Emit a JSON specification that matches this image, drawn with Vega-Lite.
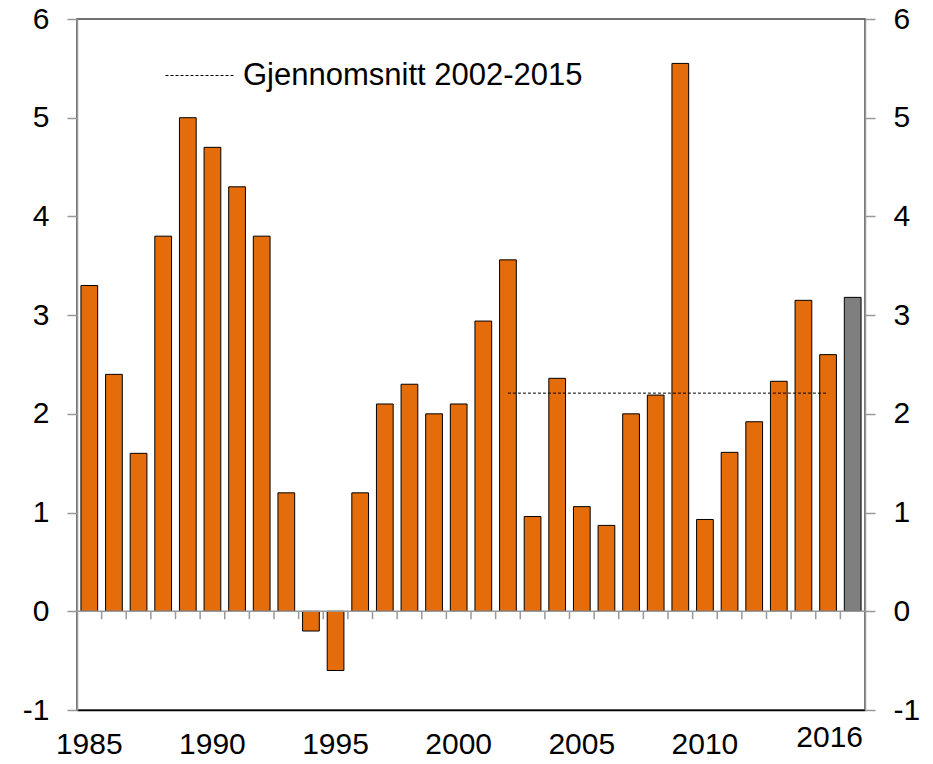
{
  "$schema": "https://vega.github.io/schema/vega-lite/v6.json",
  "width": 788,
  "height": 691,
  "autosize": "none",
  "padding": {"left": 77, "top": 19, "right": 68, "bottom": 54},
  "config": {
    "font": "Liberation Sans",
    "view": {"stroke": "#404040", "strokeWidth": 1.5}
  },
  "datasets": {
    "growth": [
      {"year": 1985, "value": 3.3, "kind": "hist"},
      {"year": 1986, "value": 2.4, "kind": "hist"},
      {"year": 1987, "value": 1.6, "kind": "hist"},
      {"year": 1988, "value": 3.8, "kind": "hist"},
      {"year": 1989, "value": 5.0, "kind": "hist"},
      {"year": 1990, "value": 4.7, "kind": "hist"},
      {"year": 1991, "value": 4.3, "kind": "hist"},
      {"year": 1992, "value": 3.8, "kind": "hist"},
      {"year": 1993, "value": 1.2, "kind": "hist"},
      {"year": 1994, "value": -0.2, "kind": "hist"},
      {"year": 1995, "value": -0.6, "kind": "hist"},
      {"year": 1996, "value": 1.2, "kind": "hist"},
      {"year": 1997, "value": 2.1, "kind": "hist"},
      {"year": 1998, "value": 2.3, "kind": "hist"},
      {"year": 1999, "value": 2.0, "kind": "hist"},
      {"year": 2000, "value": 2.1, "kind": "hist"},
      {"year": 2001, "value": 2.94, "kind": "hist"},
      {"year": 2002, "value": 3.56, "kind": "hist"},
      {"year": 2003, "value": 0.96, "kind": "hist"},
      {"year": 2004, "value": 2.36, "kind": "hist"},
      {"year": 2005, "value": 1.06, "kind": "hist"},
      {"year": 2006, "value": 0.87, "kind": "hist"},
      {"year": 2007, "value": 2.0, "kind": "hist"},
      {"year": 2008, "value": 2.19, "kind": "hist"},
      {"year": 2009, "value": 5.55, "kind": "hist"},
      {"year": 2010, "value": 0.93, "kind": "hist"},
      {"year": 2011, "value": 1.61, "kind": "hist"},
      {"year": 2012, "value": 1.92, "kind": "hist"},
      {"year": 2013, "value": 2.33, "kind": "hist"},
      {"year": 2014, "value": 3.15, "kind": "hist"},
      {"year": 2015, "value": 2.6, "kind": "hist"},
      {"year": 2016, "value": 3.18, "kind": "proj"}
    ],
    "avg": [
      {"start": 2002, "end": 2015, "avg": 2.21, "label": "Gjennomsnitt 2002-2015"}
    ]
  },
  "layer": [
    {
      "data": {"name": "growth"},
      "mark": {"type": "bar", "width": {"band": 0.68}, "stroke": "#000000", "strokeWidth": 1},
      "encoding": {
        "x": {
          "field": "year", "type": "ordinal",
          "scale": {"paddingInner": 0, "paddingOuter": 0},
          "axis": {
            "title": null,
            "values": [1985, 1990, 1995, 2000, 2005, 2010, 2016],
            "labelAngle": 0,
            "labelFont": "Liberation Sans",
            "labelFontSize": 30,
            "labelColor": "#000000",
            "ticks": false,
            "domainColor": "#000000",
            "domainWidth": 1.5,
            "labelPadding": {"condition": {"test": "datum.value == 2016", "value": 12}, "value": 19},
            "labelOffset": {"condition": {"test": "datum.value == 2016", "value": -23}, "value": 0}
          }
        },
        "y": {
          "field": "value", "type": "quantitative",
          "scale": {"domain": [-1, 6], "nice": false},
          "axis": {
            "title": null,
            "orient": "left",
            "values": [-1, 0, 1, 2, 3, 4, 5, 6],
            "labelExpr": "'' + datum.value",
            "labelFont": "Liberation Sans",
            "labelFontSize": 30,
            "labelColor": "#000000",
            "domainColor": "#999999",
            "domainWidth": 1.5,
            "tickColor": "#999999",
            "tickWidth": 1.5,
            "tickSize": 10,
            "labelPadding": 18,
            "grid": false
          }
        },
        "color": {
          "field": "kind", "type": "nominal",
          "scale": {"domain": ["hist", "proj"], "range": ["#E46C0A", "#7F7F7F"]},
          "legend": null
        }
      }
    },
    {
      "data": {"values": [{"z": 0}]},
      "mark": {"type": "rule", "color": "#999999", "strokeWidth": 1.5},
      "encoding": {
        "y": {
          "field": "z", "type": "quantitative",
          "axis": {
            "title": null,
            "orient": "right",
            "values": [-1, 0, 1, 2, 3, 4, 5, 6],
            "labelExpr": "'' + datum.value",
            "labelFont": "Liberation Sans",
            "labelFontSize": 30,
            "labelColor": "#000000",
            "domainColor": "#999999",
            "domainWidth": 1.5,
            "tickColor": "#999999",
            "tickWidth": 1.5,
            "tickSize": 10,
            "labelPadding": 18,
            "grid": false
          }
        }
      }
    },
    {
      "data": {"name": "growth"},
      "transform": [{"filter": "datum.year > 1985"}, {"calculate": "0", "as": "z0"}, {"calculate": "-0.08", "as": "z1"}],
      "mark": {"type": "rule", "color": "#999999", "strokeWidth": 1.5},
      "encoding": {
        "x": {"field": "year", "type": "ordinal", "bandPosition": 0},
        "y": {"field": "z0", "type": "quantitative", "axis": null},
        "y2": {"field": "z1"}
      }
    },
    {
      "data": {"name": "avg"},
      "mark": {"type": "rule", "strokeDash": [3, 2], "strokeWidth": 1},
      "encoding": {
        "x": {"field": "start", "type": "ordinal"},
        "x2": {"field": "end"},
        "y": {"field": "avg", "type": "quantitative", "axis": null},
        "stroke": {
          "field": "label", "type": "nominal",
          "scale": {"range": ["#000000"]},
          "legend": {
            "title": null,
            "orient": "none",
            "legendX": 88,
            "legendY": 22,
            "symbolType": "stroke",
            "symbolSize": 4624,
            "symbolStrokeWidth": 1,
            "symbolDash": [3, 2],
            "labelFontSize": 31,
            "labelFont": "Liberation Sans",
            "labelColor": "#000000",
            "labelOffset": 9,
            "labelLimit": 600
          }
        }
      }
    }
  ],
  "resolve": {"scale": {"color": "independent"}, "axis": {"y": "independent"}}
}
